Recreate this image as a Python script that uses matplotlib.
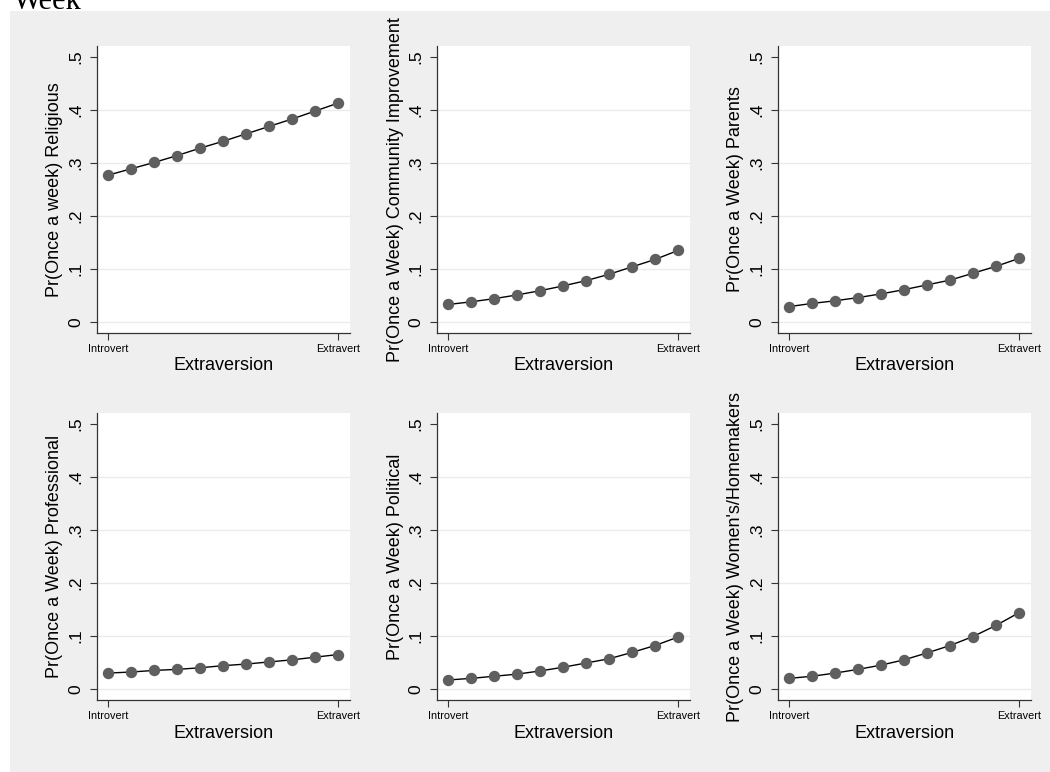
import matplotlib
matplotlib.use('Agg')
import matplotlib.pyplot as plt
from matplotlib.patches import Rectangle
import numpy as np

plt.rcParams['font.family'] = ['Liberation Sans', 'DejaVu Sans']

# 11 points from Introvert (0) to Extravert (10)
PASSOS = list(range(11))
XTICKS = [0, 10]
XTICKLABELS = ['Introvert', 'Extravert']
YTICKS = [0, 0.1, 0.2, 0.3, 0.4, 0.5]
YTICKLABELS = ['0', '.1', '.2', '.3', '.4', '.5']

religious = [0.277, 0.289, 0.301, 0.314, 0.328, 0.341, 0.355, 0.369, 0.383, 0.398, 0.413]
community = [0.033, 0.038, 0.044, 0.051, 0.059, 0.068, 0.078, 0.090, 0.104, 0.118, 0.135]
parents = [0.029, 0.035, 0.040, 0.046, 0.053, 0.061, 0.070, 0.079, 0.092, 0.105, 0.120]
professional = [0.030, 0.032, 0.035, 0.037, 0.040, 0.044, 0.047, 0.051, 0.055, 0.060, 0.065]
political = [0.017, 0.020, 0.024, 0.028, 0.034, 0.041, 0.049, 0.057, 0.069, 0.082, 0.098]
womens = [0.020, 0.024, 0.030, 0.037, 0.045, 0.055, 0.068, 0.082, 0.099, 0.120, 0.144]

SERIES = [religious, community, parents, professional, political, womens]
YLABELS = ['Pr(Once a week) Religious',
           'Pr(Once a Week) Community Improvement',
           'Pr(Once a Week) Parents',
           'Pr(Once a Week) Professional',
           'Pr(Once a Week) Political',
           "Pr(Once a Week) Women's/Homemakers"]

W, H = 1050, 772
fig = plt.figure(figsize=(W / 100, H / 100), dpi=100)
fundo = Rectangle((10 / W, 0), 1 - 10 / W, 1 - 11 / H,
                  transform=fig.transFigure, facecolor='#efefef',
                  edgecolor='none', zorder=-10)
fig.patches.append(fundo)
fig.text(13 / W, 1 - 9 / H, 'Week', family=['Liberation Serif', 'DejaVu Serif'],
         fontsize=22, ha='left', va='baseline')

LEFTS = [97, 437, 778]
TOPS = [46, 413]
AW, AH = 253, 287

for i, (vals, lab) in enumerate(zip(SERIES, YLABELS)):
    r, c = divmod(i, 3)
    ax = fig.add_axes([LEFTS[c] / W, 1 - (TOPS[r] + AH) / H, AW / W, AH / H])
    ax.set_facecolor('white')
    for yv in YTICKS[:-1]:
        ax.axhline(yv, color='#ebebeb', linewidth=1.0, zorder=1)
    ax.plot(PASSOS, vals, '-', color='black', linewidth=1.0, zorder=2)
    ax.plot(PASSOS, vals, 'o', color='#5f5f5f', markersize=8.2,
            markeredgewidth=0, zorder=3)
    ax.set_xlim(-0.48, 10.52)
    ax.set_ylim(-0.0208, 0.5208)
    ax.set_xticks(XTICKS)
    ax.set_xticklabels(XTICKLABELS, fontsize=7.8)
    ax.set_yticks(YTICKS)
    ax.set_yticklabels(YTICKLABELS, fontsize=12.5, rotation=90, va='center')
    ax.tick_params(axis='both', length=5, width=0.8, color='#333333')
    ax.tick_params(axis='x', pad=3)
    ax.tick_params(axis='y', pad=5)
    for s in ['top', 'right']:
        ax.spines[s].set_visible(False)
    for s in ['left', 'bottom']:
        ax.spines[s].set_color('#333333')
        ax.spines[s].set_linewidth(0.9)
    ax.set_ylabel(lab, fontsize=13, va='center')
    ax.yaxis.set_label_coords(-42 / AW, 0.5)
    ax.set_xlabel('Extraversion', fontsize=13, va='center')
    ax.xaxis.set_label_coords(0.5, -33 / AH)

fig.savefig('out.png', dpi=100)
